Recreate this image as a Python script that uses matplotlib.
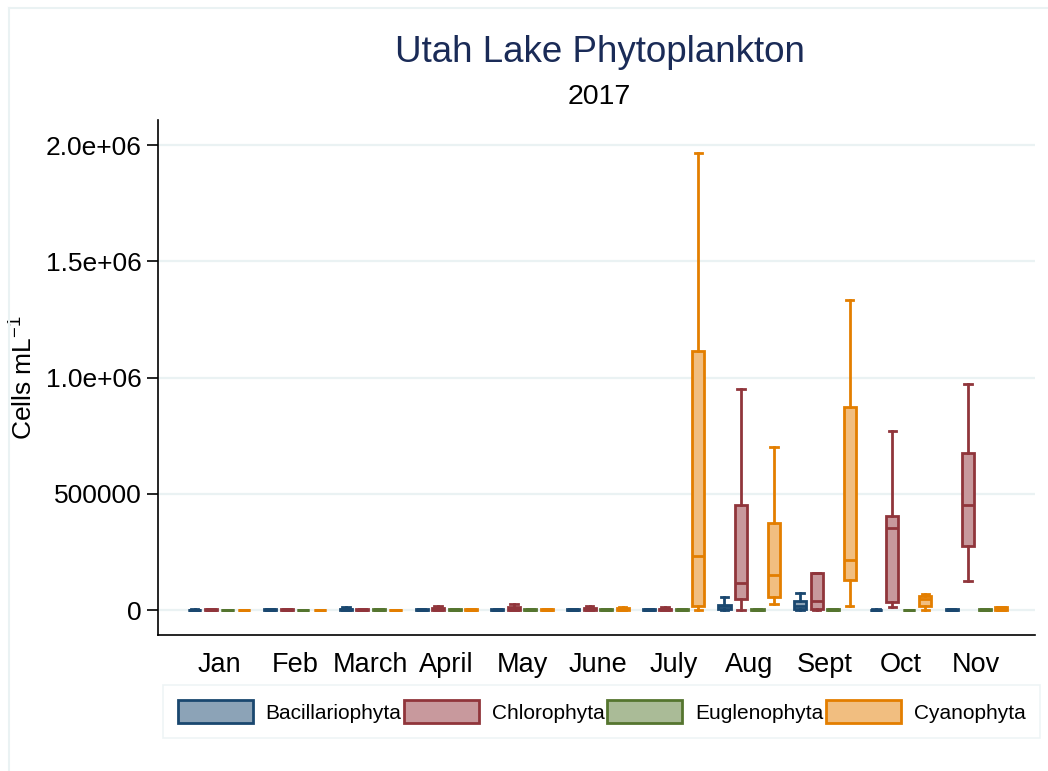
import matplotlib
matplotlib.use("Agg")
import matplotlib.pyplot as plt
from matplotlib.patches import Patch
from matplotlib.lines import Line2D
import numpy as np

plt.rcParams['font.family'] = ['Liberation Sans', 'DejaVu Sans']
plt.rcParams['mathtext.fontset'] = 'custom'
plt.rcParams['mathtext.rm'] = 'Liberation Sans'
plt.rcParams['mathtext.it'] = 'Liberation Sans'

months = ["Jan", "Feb", "March", "April", "May", "June", "July", "Aug", "Sept", "Oct", "Nov"]
groups = ["Bacillariophyta", "Chlorophyta", "Euglenophyta", "Cyanophyta"]

# five-number summaries per month (whisker low, q1, median, q3, whisker high), cells/mL
baci_lo  = [0, 0, 0, 0, 0, 0, 0, 0, 0, 0, 0]
baci_q1  = [200, 500, 1000, 500, 500, 500, 500, 3000, 3000, 300, 500]
baci_med = [800, 1500, 3000, 1500, 1500, 1500, 1500, 16000, 20000, 1000, 2000]
baci_q3  = [2000, 3000, 6000, 3000, 3000, 3000, 3000, 24000, 39000, 2000, 4000]
baci_hi  = [4000, 6000, 15000, 5000, 5000, 5000, 6000, 57000, 76000, 3000, 6000]

chlo_lo  = [0, 0, 0, 0, 0, 0, 0, 0, 0, 13000, 124000]
chlo_q1  = [500, 500, 500, 1000, 2000, 1500, 1000, 46000, 6000, 37000, 274000]
chlo_med = [1500, 1500, 1500, 4000, 6000, 5000, 3000, 119000, 40000, 353000, 454000]
chlo_q3  = [3000, 3000, 3000, 8000, 12000, 10000, 7000, 454000, 161000, 407000, 676000]
chlo_hi  = [5000, 5000, 5000, 20000, 25000, 20000, 13000, 950000, 161000, 769000, 972000]

eugl_lo  = [0, 0, 0, 0, 0, 0, 0, 0, 0, 0, 0]
eugl_q1  = [0, 0, 500, 500, 500, 500, 500, 500, 500, 0, 500]
eugl_med = [100, 100, 1500, 1500, 1500, 1500, 1500, 1500, 1500, 200, 1500]
eugl_q3  = [300, 300, 3500, 3500, 3500, 3500, 3500, 3500, 3500, 500, 3500]
eugl_hi  = [500, 500, 4000, 4000, 4000, 4000, 4000, 4000, 4000, 1000, 4000]

cyan_lo  = [0, 0, 0, 0, 0, 0, 0, 27000, 18000, 0, 0]
cyan_q1  = [0, 0, 0, 500, 500, 1500, 17000, 57000, 129000, 18000, 2000]
cyan_med = [100, 100, 100, 1500, 1500, 5000, 231000, 153000, 214000, 50000, 8000]
cyan_q3  = [300, 300, 300, 3500, 3500, 9000, 1114000, 376000, 874000, 63000, 12000]
cyan_hi  = [500, 500, 500, 4000, 4000, 12000, 1967000, 700000, 1333000, 69000, 14000]

series = [
    (baci_lo, baci_q1, baci_med, baci_q3, baci_hi),
    (chlo_lo, chlo_q1, chlo_med, chlo_q3, chlo_hi),
    (eugl_lo, eugl_q1, eugl_med, eugl_q3, eugl_hi),
    (cyan_lo, cyan_q1, cyan_med, cyan_q3, cyan_hi),
]
edge_colors = ["#1a476f", "#90353b", "#55752f", "#e37e00"]
fill_colors = ["#8ca3b7", "#c8999d", "#aabb97", "#f1be80"]

fig = plt.figure(figsize=(10.48, 7.71), dpi=100)
ax = fig.add_axes([0.151, 0.176, 0.837, 0.668])

x = np.arange(len(months))
offsets = np.array([-1.5, -0.5, 0.5, 1.5]) * 0.218
lw = 2.0

for k, (lo, q1, med, q3, hi) in enumerate(series):
    stats = [dict(whislo=lo[i], q1=q1[i], med=med[i], q3=q3[i], whishi=hi[i], fliers=[])
             for i in range(len(months))]
    ec = edge_colors[k]
    ax.bxp(stats, positions=x + offsets[k], widths=0.16, capwidths=0.1,
           patch_artist=True, showfliers=False, manage_ticks=False,
           boxprops=dict(facecolor=fill_colors[k], edgecolor=ec, linewidth=lw),
           medianprops=dict(color=ec, linewidth=lw),
           whiskerprops=dict(color=ec, linewidth=lw),
           capprops=dict(color=ec, linewidth=lw))

ax.set_xlim(-0.806, 10.78)
ax.set_ylim(-108000, 2107000)
ax.set_yticks([0, 500000, 1000000, 1500000, 2000000])
ax.set_yticklabels(["0", "500000", "1.0e+06", "1.5e+06", "2.0e+06"], fontsize=19)
ax.set_xticks(x)
ax.set_xticklabels(months, fontsize=19.5)
ax.tick_params(axis='x', length=0, pad=12)
ax.tick_params(axis='y', length=8, width=1.2, pad=4)
ax.grid(axis='y', color="#eaf2f3", linewidth=1.6)
ax.set_axisbelow(True)
for s in ["top", "right"]:
    ax.spines[s].set_visible(False)
ax.spines["left"].set_linewidth(1.2)
ax.spines["bottom"].set_linewidth(1.2)
ax.set_ylabel("Cells mL$^{\u22121}$", fontsize=19, labelpad=6)

fig.text(0.572, 0.932, "Utah Lake Phytoplankton", ha="center", va="center",
         fontsize=26.5, color="#1a2b57")
fig.text(0.572, 0.874, "2017", ha="center", va="center", fontsize=20.5, color="black")

handles = [Patch(facecolor=fill_colors[k], edgecolor=edge_colors[k], linewidth=lw)
           for k in range(4)]
leg = fig.legend(handles, groups, loc="center", bbox_to_anchor=(0.574, 0.077), ncol=4,
                 fontsize=15, frameon=True, fancybox=False, handlelength=3.6,
                 handleheight=1.35, handletextpad=0.6, columnspacing=0.15,
                 borderpad=0.7, borderaxespad=0)
leg.get_frame().set_edgecolor("#eaf2f3")
leg.get_frame().set_linewidth(1.2)

# faint outer frame of the graph region
fig.add_artist(Line2D([9/1048, 9/1048], [0, 1 - 8/771], transform=fig.transFigure,
                      color="#eaf2f3", linewidth=1.5))
fig.add_artist(Line2D([9/1048, 1], [1 - 8/771, 1 - 8/771], transform=fig.transFigure,
                      color="#eaf2f3", linewidth=1.5))

fig.savefig("out.png", dpi=100)
